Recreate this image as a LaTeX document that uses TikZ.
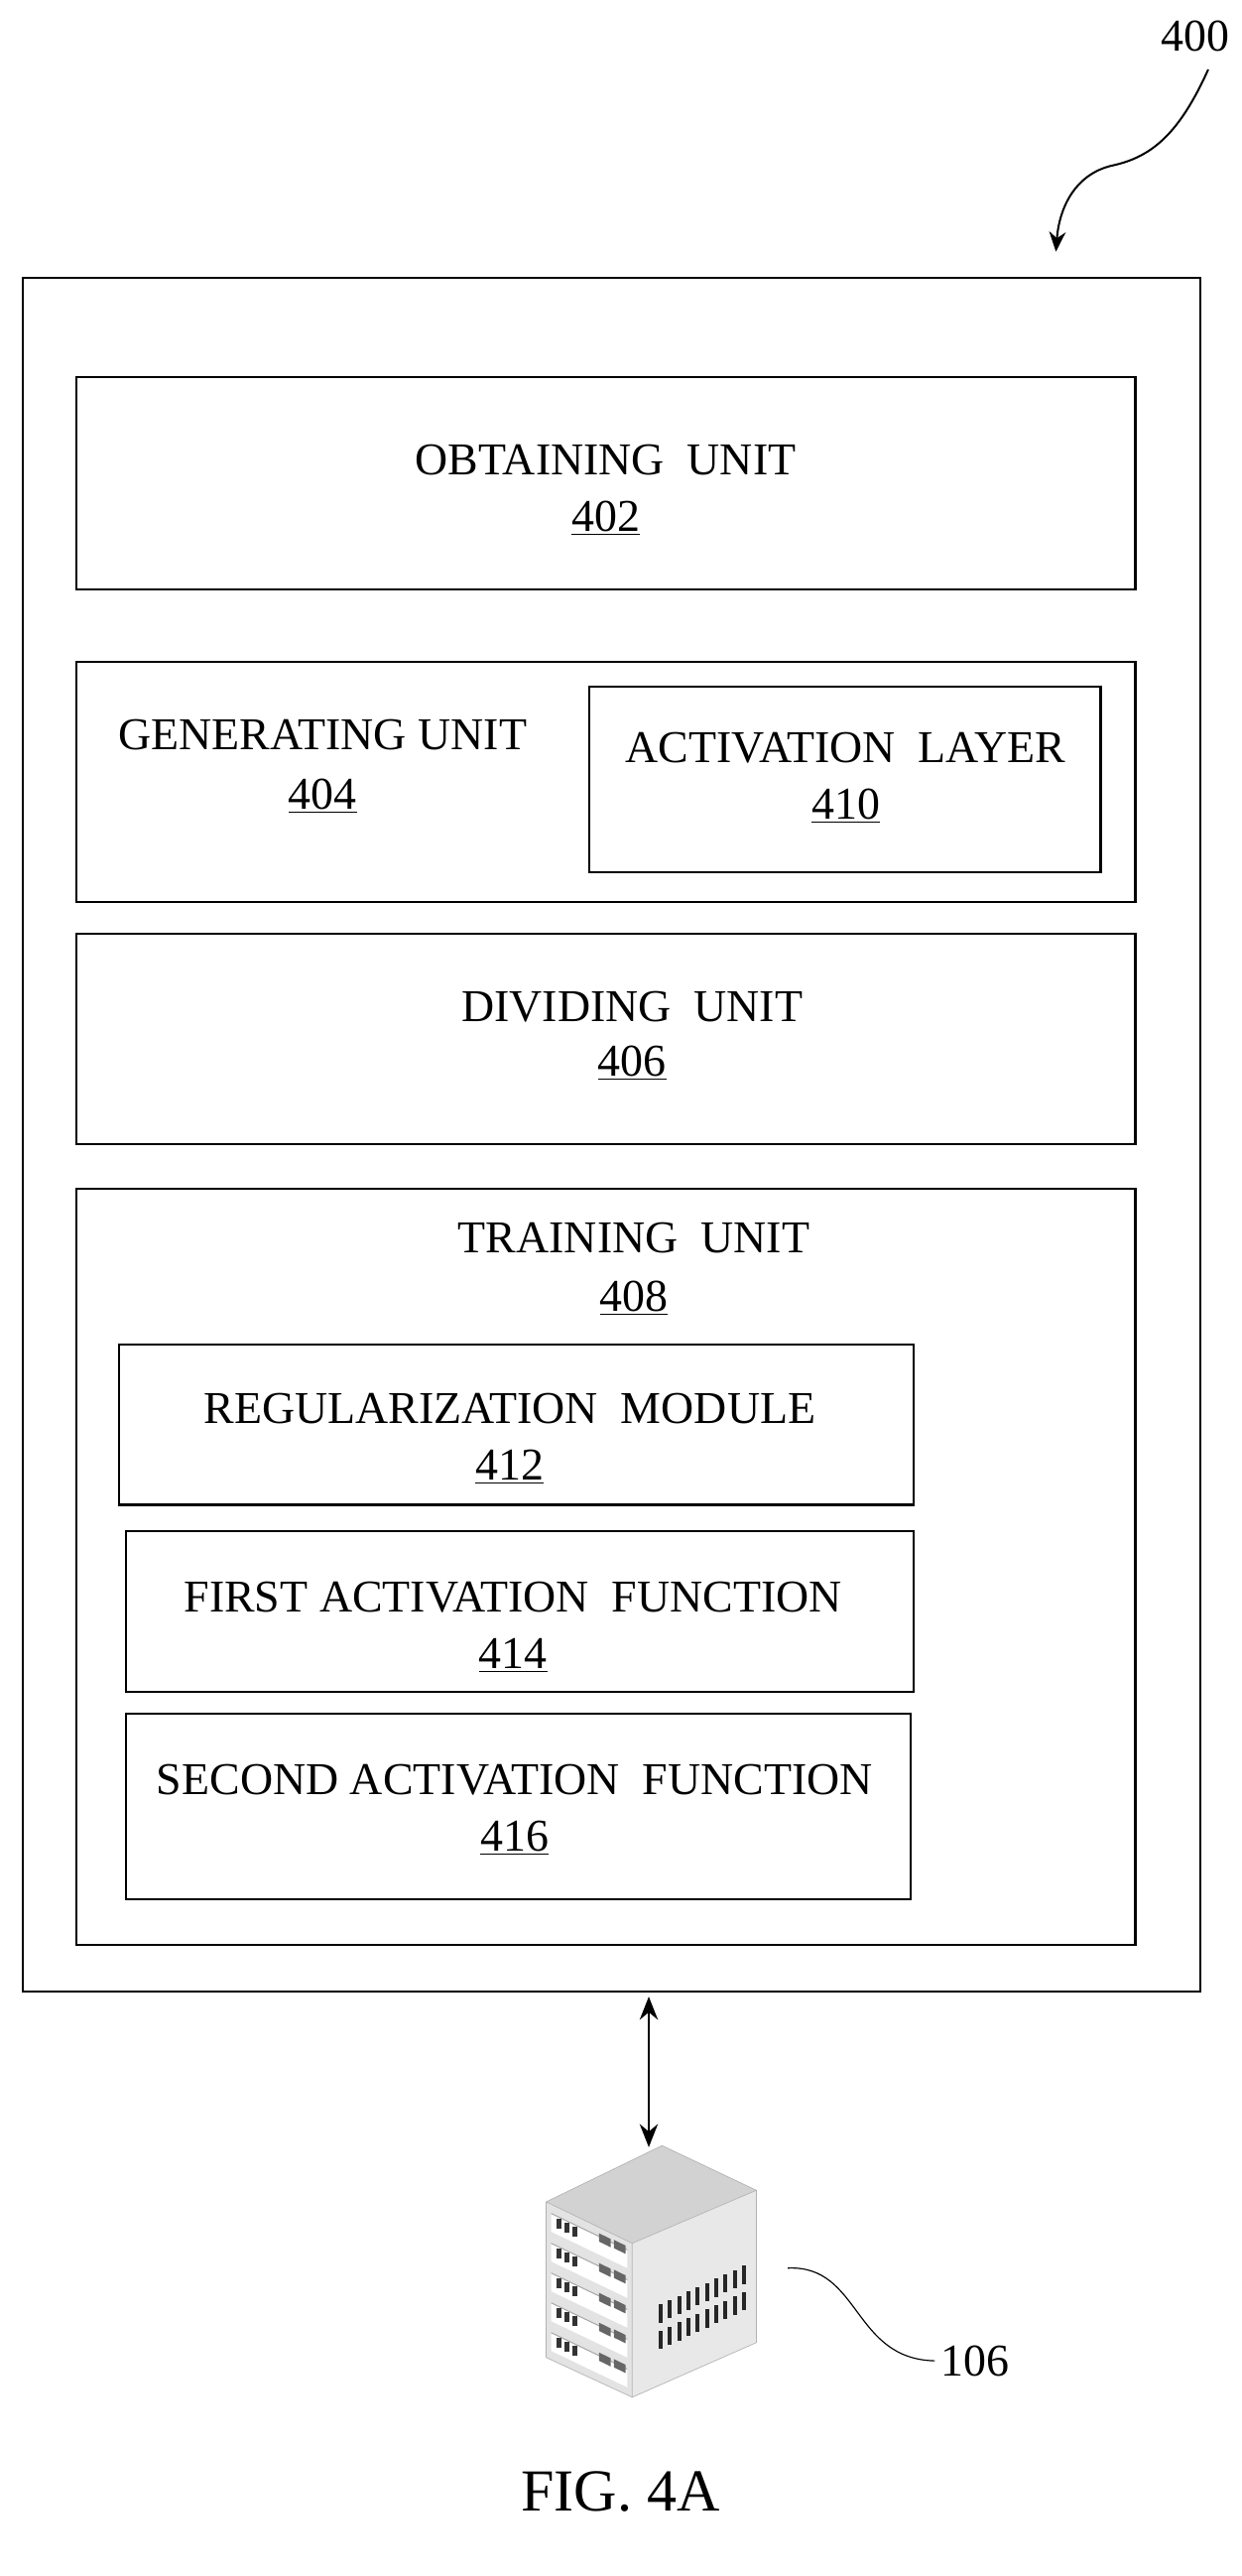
\documentclass[tikz,border=0pt]{standalone}
\usepackage{fontspec}
\setmainfont{Liberation Serif}
\usetikzlibrary{arrows.meta}
\begin{document}
\begin{tikzpicture}[x=1pt,y=-1pt,
 box/.style={draw,line width=1.3pt},
 lbl/.style={font=\fontsize{27.5}{32}\selectfont,align=center},
 num/.style={font=\fontsize{27.5}{32}\selectfont}]
\useasboundingbox (0,0) rectangle (750,1556);
\draw[box] (14,168) rectangle (725,1203);
\draw[box] (46,228) rectangle (686,356);
\node[lbl] (t402) at (366,278) {OBTAINING\ \ UNIT};
\node[num] (n402) at (366,313) {\underline{402}};
\draw[box] (46,400) rectangle (686,545);
\node[lbl] (t404) at (195,444) {GENERATING UNIT};
\node[num] (n404) at (195,481) {\underline{404}};
\draw[box] (356,415) rectangle (665,527);
\node[lbl] (t410) at (511,452) {ACTIVATION\ \ LAYER};
\node[num] (n410) at (511,487) {\underline{410}};
\draw[box] (46,564) rectangle (686,691);
\node[lbl] (t406) at (382,608) {DIVIDING\ \ UNIT};
\node[num] (n406) at (382,642) {\underline{406}};
\draw[box] (46,718) rectangle (686,1175);
\node[lbl] (t408) at (383,748) {TRAINING\ \ UNIT};
\node[num] (n408) at (383,784) {\underline{408}};
\draw[box] (72,812) rectangle (552,909);
\node[lbl] (t412) at (308,851) {REGULARIZATION\ \ MODULE};
\node[num] (n412) at (308,886) {\underline{412}};
\draw[box] (76,925) rectangle (552,1022);
\node[lbl] (t414) at (310,965) {FIRST ACTIVATION\ \ FUNCTION};
\node[num] (n414) at (310,1000) {\underline{414}};
\draw[box] (76,1035) rectangle (550,1147);
\node[lbl] (t416) at (311,1075) {SECOND ACTIVATION\ \ FUNCTION};
\node[num] (n416) at (311,1110) {\underline{416}};
% double arrow
\coordinate (a1) at (392,1206);
\coordinate (a2) at (392,1297);
\draw[line width=1.5pt,{Stealth[length=14pt,width=11pt]}-{Stealth[length=14pt,width=11pt]}] (a1) -- (a2);
% server
\fill[gray!35] (400,1296) -- (457,1323) -- (382,1355) -- (330,1330) -- cycle;
\fill[gray!22] (330,1330) -- (382,1355) -- (382,1448) -- (330,1424) -- cycle;
\fill[gray!18] (382,1355) -- (457,1323) -- (457,1415) -- (382,1448) -- cycle;
\foreach \i in {0,...,4}{
  \pgfmathsetmacro{\yy}{1337+\i*18}
  \fill[white] (333,\yy) -- (379,\yy+22) -- (379,\yy+33) -- (333,\yy+11) -- cycle;
  \draw[gray!70,line width=0.6pt] (333,\yy) -- (379,\yy+22);
  \foreach \k in {0,1,2}{
    \fill[black!80] (336+\k*5,\yy+3+\k*2.4) rectangle ++(3,6);}
  \foreach \k in {0,1}{
    \fill[black!60] (362+\k*9,\yy+12+\k*4) -- ++(7,3.4) -- ++(0,5) -- ++(-7,-3.4) -- cycle;}
}
\foreach \r in {0,1}{
  \foreach \k in {0,...,9}{
    \fill[black!85] (398+\k*5.6,\r*16+1392-\k*2.6) rectangle ++(2.4,11);}
}
\draw[gray!60,line width=0.4pt] (400,1296) -- (457,1323) -- (457,1415) -- (382,1448) -- (330,1424) -- (330,1330) -- cycle (330,1330) -- (382,1355) -- (457,1323) (382,1355) -- (382,1448);
\coordinate (s106) at (476,1370);
\node[num] (l106) at (589,1426) {106};
\draw[line width=0.7pt] (s106) .. controls (520,1368) and (515,1425) .. (l106.west);
% 400
\node[num] (l400) at (722,22) {400};
\coordinate (p400) at (638,152);
\draw[line width=1.2pt,-{Stealth[length=12pt,width=10pt]}] (730,42) .. controls (712,82) and (695,95) .. (672,100) .. controls (650,105) and (640,125) .. (p400);
\node[font=\fontsize{36}{42}\selectfont] (fig) at (375,1505) {FIG. 4A};
\end{tikzpicture}
\end{document}
